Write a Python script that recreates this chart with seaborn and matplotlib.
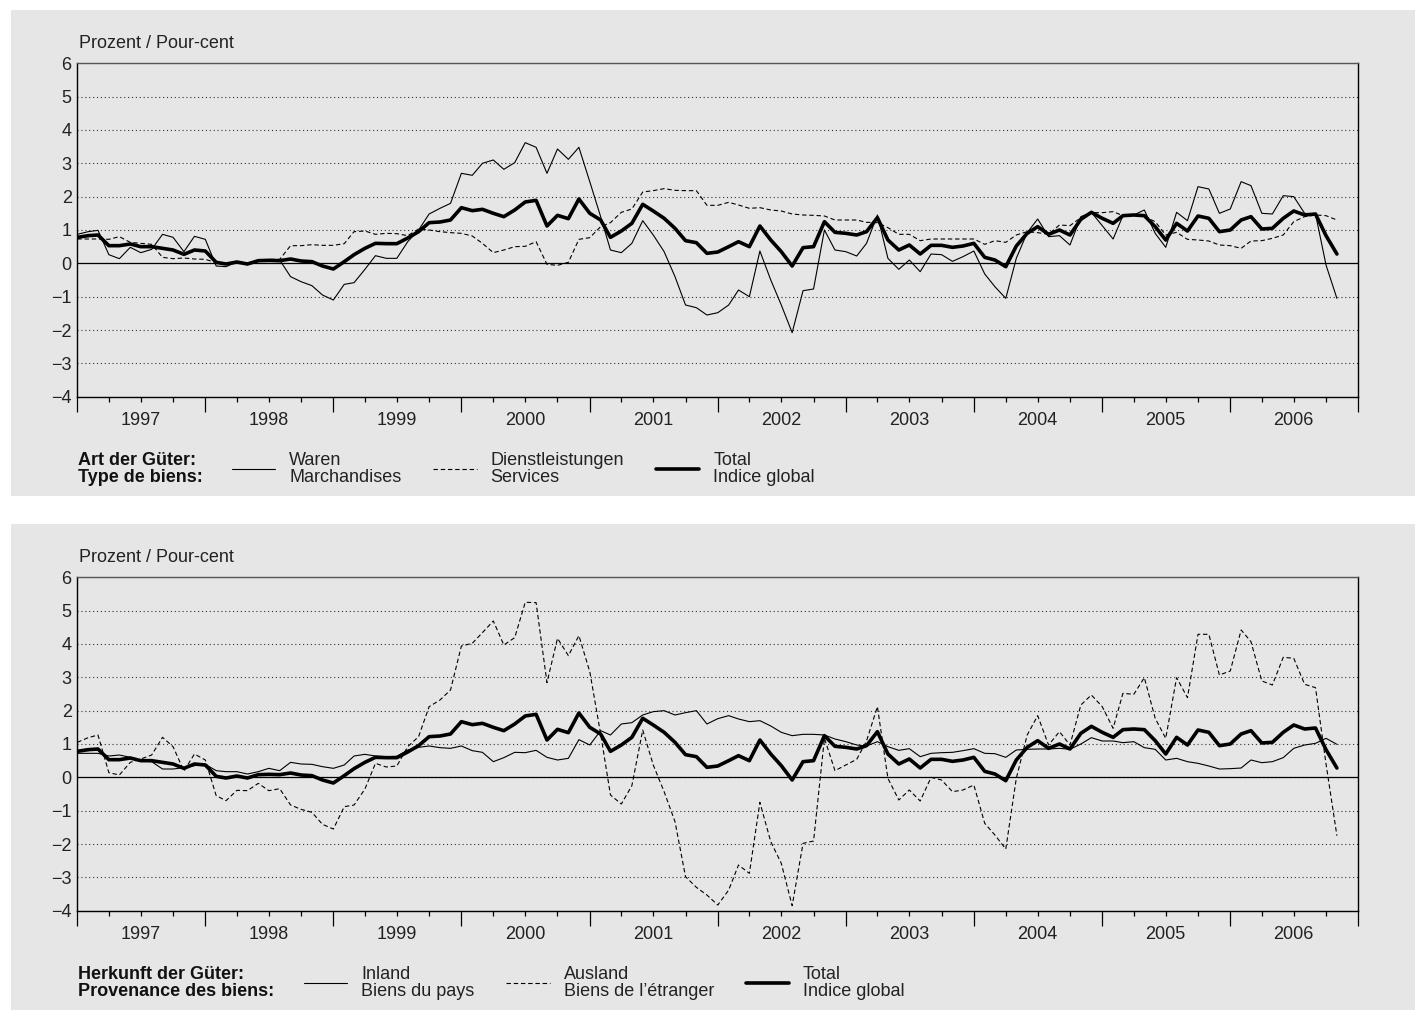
#!/usr/bin/env python
# -*- coding: utf-8 -*-

"""Produzentenpreise: Veraenderung gegenueber Vorjahresmonat, zwei Panels."""

import pandas as pd
import seaborn as sns
import matplotlib.pyplot as plt
import matplotlib.dates as mdates
from matplotlib.patches import Rectangle
from matplotlib.ticker import FuncFormatter, NullFormatter

# %% Daten (Prozent), monatlich ab Januar 1997.

monate = pd.date_range("1997-01-01", periods=119, freq="MS")

total = [
    0.78, 0.83, 0.85, 0.53, 0.53, 0.58, 0.50, 0.50, 0.45, 0.40, 0.27, 0.40,
    0.37, 0.03, -0.02, 0.04, -0.02, 0.08, 0.09, 0.08, 0.13, 0.07, 0.05, -0.08,
    -0.17, 0.05, 0.26, 0.45, 0.60, 0.59, 0.59, 0.76, 0.95, 1.22, 1.24, 1.30,
    1.67, 1.58, 1.62, 1.50, 1.40, 1.60, 1.84, 1.89, 1.12, 1.44, 1.34, 1.93,
    1.50, 1.30, 0.78, 0.97, 1.20, 1.77, 1.57, 1.35, 1.05, 0.68, 0.62, 0.30,
    0.34, 0.50, 0.65, 0.50, 1.12, 0.70, 0.35, -0.08, 0.47, 0.50, 1.25, 0.93,
    0.90, 0.85, 0.95, 1.37, 0.70, 0.40, 0.55, 0.28, 0.54, 0.54, 0.48, 0.52,
    0.60, 0.18, 0.10, -0.10, 0.52, 0.90, 1.10, 0.87, 1.00, 0.85, 1.32, 1.53,
    1.35, 1.20, 1.43, 1.45, 1.43, 1.10, 0.70, 1.20, 0.97, 1.42, 1.35, 0.95,
    1.00, 1.30, 1.40, 1.03, 1.05, 1.35, 1.57, 1.45, 1.48, 0.83, 0.28,
]

waren = [
    0.87, 0.95, 0.99, 0.26, 0.14, 0.48, 0.32, 0.42, 0.87, 0.78, 0.35, 0.81,
    0.72, -0.08, -0.10, 0.04, -0.04, 0.06, 0.10, 0.10, -0.40, -0.55, -0.67, -0.95,
    -1.10, -0.63, -0.58, -0.18, 0.23, 0.15, 0.15, 0.65, 1.00, 1.48, 1.65, 1.80,
    2.70, 2.64, 3.00, 3.10, 2.82, 3.02, 3.62, 3.48, 2.70, 3.43, 3.12, 3.48,
    2.45, 1.40, 0.40, 0.32, 0.60, 1.28, 0.85, 0.35, -0.40, -1.25, -1.33, -1.55,
    -1.48, -1.25, -0.80, -1.00, 0.37, -0.50, -1.25, -2.08, -0.82, -0.77, 1.00, 0.40,
    0.35, 0.22, 0.60, 1.45, 0.15, -0.18, 0.10, -0.25, 0.28, 0.26, 0.06, 0.20,
    0.37, -0.32, -0.70, -1.05, 0.15, 0.92, 1.33, 0.80, 0.83, 0.55, 1.40, 1.53,
    1.13, 0.73, 1.43, 1.45, 1.60, 0.90, 0.48, 1.53, 1.28, 2.30, 2.23, 1.50,
    1.63, 2.45, 2.33, 1.50, 1.48, 2.03, 2.00, 1.50, 1.48, -0.05, -1.05,
]

dienstleistungen = [
    0.73, 0.73, 0.73, 0.72, 0.80, 0.63, 0.60, 0.57, 0.18, 0.14, 0.16, 0.13,
    0.12, 0.02, 0.00, 0.04, 0.00, 0.07, 0.12, 0.12, 0.53, 0.53, 0.56, 0.54,
    0.54, 0.59, 0.95, 0.97, 0.87, 0.90, 0.89, 0.83, 1.03, 1.00, 0.95, 0.92,
    0.90, 0.82, 0.60, 0.32, 0.40, 0.50, 0.51, 0.65, -0.03, -0.06, 0.03, 0.72,
    0.77, 1.10, 1.22, 1.53, 1.63, 2.14, 2.18, 2.24, 2.19, 2.18, 2.18, 1.74,
    1.74, 1.83, 1.75, 1.65, 1.67, 1.60, 1.57, 1.48, 1.45, 1.44, 1.42, 1.30,
    1.30, 1.30, 1.23, 1.22, 1.07, 0.87, 0.87, 0.68, 0.73, 0.73, 0.73, 0.73,
    0.73, 0.57, 0.68, 0.63, 0.85, 0.95, 0.92, 0.87, 1.15, 1.13, 1.37, 1.52,
    1.52, 1.55, 1.43, 1.45, 1.40, 1.25, 0.85, 0.93, 0.72, 0.70, 0.67, 0.55,
    0.53, 0.45, 0.67, 0.68, 0.75, 0.85, 1.25, 1.40, 1.45, 1.43, 1.30,
]

inland = [
    0.72, 0.72, 0.72, 0.64, 0.67, 0.60, 0.49, 0.47, 0.25, 0.25, 0.29, 0.35,
    0.39, 0.20, 0.17, 0.17, 0.10, 0.17, 0.27, 0.20, 0.45, 0.40, 0.39, 0.32,
    0.27, 0.37, 0.64, 0.69, 0.64, 0.62, 0.63, 0.82, 0.90, 0.94, 0.89, 0.87,
    0.94, 0.80, 0.75, 0.47, 0.59, 0.75, 0.74, 0.81, 0.60, 0.52, 0.57, 1.13,
    0.97, 1.40, 1.27, 1.60, 1.64, 1.87, 1.97, 2.00, 1.87, 1.94, 2.00, 1.60,
    1.76, 1.85, 1.75, 1.67, 1.70, 1.54, 1.35, 1.25, 1.29, 1.29, 1.27, 1.15,
    1.07, 0.97, 0.94, 1.07, 0.92, 0.81, 0.86, 0.62, 0.72, 0.74, 0.75, 0.80,
    0.86, 0.72, 0.71, 0.60, 0.82, 0.84, 0.85, 0.85, 0.87, 0.84, 1.00, 1.19,
    1.09, 1.09, 1.04, 1.07, 0.89, 0.84, 0.52, 0.57, 0.47, 0.42, 0.34, 0.25,
    0.26, 0.28, 0.52, 0.44, 0.47, 0.59, 0.87, 0.97, 1.02, 1.17, 0.99,
]

ausland = [
    1.05, 1.19, 1.27, 0.14, 0.07, 0.45, 0.55, 0.67, 1.20, 0.92, 0.19, 0.70,
    0.52, -0.55, -0.70, -0.39, -0.40, -0.18, -0.40, -0.34, -0.83, -0.96, -1.05, -1.41,
    -1.55, -0.88, -0.83, -0.35, 0.42, 0.31, 0.34, 0.92, 1.22, 2.12, 2.32, 2.62,
    3.94, 4.02, 4.34, 4.69, 3.97, 4.19, 5.25, 5.24, 2.84, 4.17, 3.65, 4.25,
    3.17, 1.30, -0.53, -0.80, -0.25, 1.42, 0.37, -0.43, -1.33, -2.98, -3.30, -3.53,
    -3.83, -3.38, -2.63, -2.88, -0.75, -1.93, -2.58, -3.85, -1.98, -1.91, 1.17, 0.20,
    0.37, 0.54, 1.09, 2.12, -0.03, -0.68, -0.38, -0.71, 0.00, -0.08, -0.43, -0.38,
    -0.23, -1.38, -1.73, -2.15, -0.03, 1.27, 1.85, 0.97, 1.37, 0.97, 2.17, 2.47,
    2.12, 1.47, 2.52, 2.49, 2.99, 1.77, 1.17, 2.99, 2.39, 4.29, 4.29, 3.07,
    3.19, 4.42, 4.07, 2.89, 2.77, 3.60, 3.57, 2.79, 2.69, 0.40, -1.75,
]

# %% Layout (Pixel im 1415 x 1010 Bild).

W, H = 1415, 1010
GRAU = "#e6e6e6"


def fx(px):
    return px / W


def fy(py):
    return 1 - py / H


sns.set_style("white")
plt.rcParams["font.family"] = ["Liberation Sans", "DejaVu Sans"]
plt.rcParams["axes.unicode_minus"] = True

fig = plt.figure(figsize=(W / 100, H / 100), dpi=100)
fig.patch.set_facecolor("white")

DASH = (0, (4, 2.5))


def jahr_label(v, pos):
    d = mdates.num2date(v)
    return str(d.year) if d.month == 7 else ""


def panel(top, df, namen, titel, labels, leg_x):
    """Ein Panel zeichnen; top = Pixel der Oberkante des grauen Kastens."""
    fig.add_artist(Rectangle((fx(11), fy(top + 486)), fx(W - 11), 486 / H,
                             transform=fig.transFigure, facecolor=GRAU,
                             edgecolor="none", zorder=-10))
    ax_top, ax_bot = top + 53.3, top + 386.7
    ax = fig.add_axes([fx(77.3), fy(ax_bot), fx(1358.3 - 77.3),
                       (ax_bot - ax_top) / H])
    ax.set_facecolor("none")

    ax.axhline(0, color="black", lw=0.9, zorder=2)
    sns.lineplot(data=df, x="Monat", y=namen[0], ax=ax, color="black",
                 linewidth=0.8, label=labels[0], zorder=3)
    sns.lineplot(data=df, x="Monat", y=namen[1], ax=ax, color="black",
                 linewidth=0.8, linestyle=DASH, label=labels[1], zorder=3)
    sns.lineplot(data=df, x="Monat", y="Total", ax=ax, color="black",
                 linewidth=2.6, label=labels[2], zorder=4)
    handles = ax.lines[-3:]

    ax.set(xlabel="", ylabel="")
    ax.set_xlim(pd.Timestamp("1997-01-01"), pd.Timestamp("2007-01-01"))
    ax.set_ylim(-4, 6)
    ax.set_yticks(range(-4, 7))
    ax.yaxis.grid(True, linestyle=(0, (1, 2.5)), color="#333333", lw=0.8)
    ax.xaxis.grid(False)

    ax.xaxis.set_major_locator(mdates.YearLocator())
    ax.xaxis.set_major_formatter(NullFormatter())
    ax.xaxis.set_minor_locator(mdates.MonthLocator(bymonth=[4, 7, 10]))
    ax.xaxis.set_minor_formatter(FuncFormatter(jahr_label))
    ax.tick_params(axis="x", which="both", bottom=True, direction="out",
                   width=0.9, color="black")
    ax.tick_params(axis="x", which="major", length=11)
    ax.tick_params(axis="x", which="minor", length=3.6, pad=7.5,
                   labelsize=13, labelcolor="#222222")
    ax.tick_params(axis="y", left=False, length=0, pad=4, labelsize=13,
                   labelcolor="#222222")

    for s in ["left", "right", "bottom"]:
        ax.spines[s].set_color("black")
        ax.spines[s].set_linewidth(1.0)
    ax.spines["top"].set_color("#555555")
    ax.spines["top"].set_linewidth(1.0)
    ax.spines["top"].set_linestyle((0, (1, 1)))

    fig.text(fx(79), fy(top + 34), "Prozent / Pour-cent", fontsize=13,
             ha="left", va="center", color="#222222")

    leg_y = top + 459
    fig.text(fx(78), fy(leg_y), titel, fontsize=13, fontweight="bold",
             ha="left", va="center", linespacing=1.0, color="#111111")
    leg = ax.legend(handles, labels, ncol=3, loc="center left",
                    bbox_to_anchor=(fx(leg_x), fy(leg_y)),
                    bbox_transform=fig.transFigure, frameon=False,
                    fontsize=13, handlelength=2.4, handletextpad=0.78,
                    columnspacing=1.75, borderpad=0, borderaxespad=0)
    for t in leg.get_texts():
        t.set_linespacing(1.0)
        t.set_color("#222222")
    return ax


df_art = pd.DataFrame({"Monat": monate, "Waren": waren,
                       "Dienstleistungen": dienstleistungen, "Total": total})
df_herkunft = pd.DataFrame({"Monat": monate, "Inland": inland,
                            "Ausland": ausland, "Total": total})

panel(10, df_art, ["Waren", "Dienstleistungen"],
      "Art der Güter:\nType de biens:",
      ["Waren\nMarchandises", "Dienstleistungen\nServices",
       "Total\nIndice global"], 232)

panel(524, df_herkunft, ["Inland", "Ausland"],
      "Herkunft der Güter:\nProvenance des biens:",
      ["Inland\nBiens du pays", "Ausland\nBiens de l\u2019étranger",
       "Total\nIndice global"], 304)

fig.savefig("out.png", dpi=100, facecolor="white")
